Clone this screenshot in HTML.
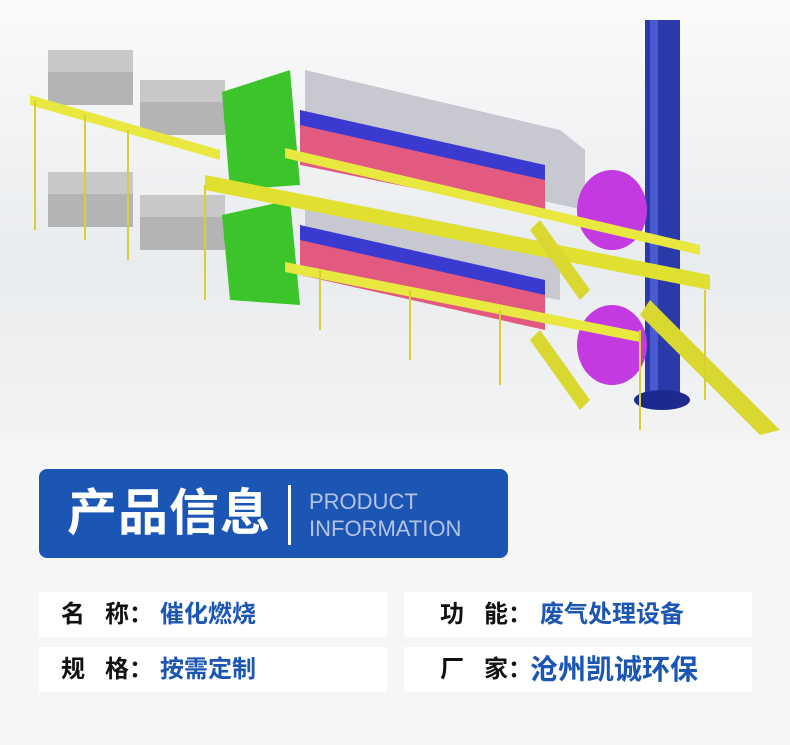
<!DOCTYPE html>
<html><head><meta charset="utf-8"><style>
body{margin:0;width:790px;height:745px;background:#f6f6f6;overflow:hidden;position:relative;font-family:"Liberation Sans","Noto Sans CJK SC",sans-serif}
.top{position:absolute;left:0;top:0;width:790px;height:440px;background:linear-gradient(180deg,#fafafa,#e9ecef 60%,#f3f3f3)}
.banner{position:absolute;left:39px;top:469px;width:469px;height:89px;background:#1b56b5;border-radius:8px}
.bt{position:absolute;left:28px;top:14px;color:#fff;font-size:50px;font-weight:bold;letter-spacing:1px;line-height:60px}
.bar{position:absolute;left:249px;top:16px;width:3px;height:60px;background:#fff}
.en{position:absolute;left:270px;top:19px;color:#b5c3e0;font-size:22px;line-height:27px}
.row{position:absolute;height:45px;background:#fff;font-size:24px;font-weight:bold;line-height:45px}
.k{position:absolute;left:22px;color:#111}
.v{position:absolute;color:#1b56b5}
</style></head><body>
<div class="top">
<svg width="790" height="440" viewBox="0 0 790 440">
<rect x="645" y="20" width="35" height="380" fill="#2a3aa8"/>
<rect x="650" y="20" width="8" height="380" fill="#4a5ad0"/>
<ellipse cx="662" cy="400" rx="28" ry="10" fill="#1c2a90"/>
<g>
<rect x="48" y="50" width="85" height="55" fill="#b4b4b4"/><rect x="48" y="50" width="85" height="22" fill="#c8c8c8"/>
<rect x="140" y="80" width="85" height="55" fill="#b4b4b4"/><rect x="140" y="80" width="85" height="22" fill="#c8c8c8"/>
<rect x="48" y="172" width="85" height="55" fill="#b4b4b4"/><rect x="48" y="172" width="85" height="22" fill="#c8c8c8"/>
<rect x="140" y="195" width="85" height="55" fill="#b4b4b4"/><rect x="140" y="195" width="85" height="22" fill="#c8c8c8"/>
<polygon points="222,92 290,70 300,185 230,190" fill="#3cc52a"/>
<polygon points="222,215 290,200 300,305 230,300" fill="#3cc52a"/>
<polygon points="305,70 560,130 585,150 585,210 305,150" fill="#c8c8d0"/>
<polygon points="300,120 545,175 545,215 300,165" fill="#e35a80"/>
<polygon points="300,110 545,165 545,180 300,125" fill="#3a3ad0"/>
<polygon points="305,195 560,245 560,300 305,255" fill="#c8c8d0"/>
<polygon points="300,235 545,290 545,330 300,275" fill="#e35a80"/>
<polygon points="300,225 545,280 545,295 300,240" fill="#3a3ad0"/>
<ellipse cx="612" cy="210" rx="35" ry="40" fill="#c23ae0"/>
<ellipse cx="612" cy="345" rx="35" ry="40" fill="#c23ae0"/>
<polygon points="30,95 220,150 220,160 30,105" fill="#e8e840"/>
<polygon points="205,175 710,275 710,290 205,190" fill="#e0e030"/>
<polygon points="285,148 700,245 700,255 285,158" fill="#e8e840"/>
<polygon points="285,262 640,332 640,342 285,272" fill="#e8e840"/>
<polygon points="650,300 780,430 760,435 640,315" fill="#d8d830"/>
<polygon points="540,220 590,290 580,300 530,230" fill="#d8d830"/>
<polygon points="540,330 590,400 580,410 530,340" fill="#d8d830"/>
<g stroke="#d8d030" stroke-width="2">
<line x1="35" y1="100" x2="35" y2="230"/><line x1="85" y1="115" x2="85" y2="240"/>
<line x1="128" y1="130" x2="128" y2="260"/><line x1="205" y1="185" x2="205" y2="300"/>
<line x1="320" y1="270" x2="320" y2="330"/><line x1="410" y1="290" x2="410" y2="360"/>
<line x1="500" y1="310" x2="500" y2="385"/><line x1="640" y1="330" x2="640" y2="430"/>
<line x1="705" y1="290" x2="705" y2="400"/>
</g>
</g>
</svg>
</div>
<div class="banner"><div class="bt">产品信息</div><div class="bar"></div><div class="en">PRODUCT<br>INFORMATION</div></div>
<div class="row" style="left:39px;top:592px;width:348px"><span class="k">名&nbsp;&nbsp;&nbsp;称：</span><span class="v" style="left:121px">催化燃烧</span></div>
<div class="row" style="left:404px;top:592px;width:348px"><span class="k" style="left:36px">功&nbsp;&nbsp;&nbsp;能：</span><span class="v" style="left:136px">废气处理设备</span></div>
<div class="row" style="left:39px;top:647px;width:348px"><span class="k">规&nbsp;&nbsp;&nbsp;格：</span><span class="v" style="left:121px">按需定制</span></div>
<div class="row" style="left:404px;top:647px;width:348px"><span class="k" style="left:36px">厂&nbsp;&nbsp;&nbsp;家：</span><span class="v" style="left:126px;font-size:28px">沧州凯诚环保</span></div>
</body></html>
